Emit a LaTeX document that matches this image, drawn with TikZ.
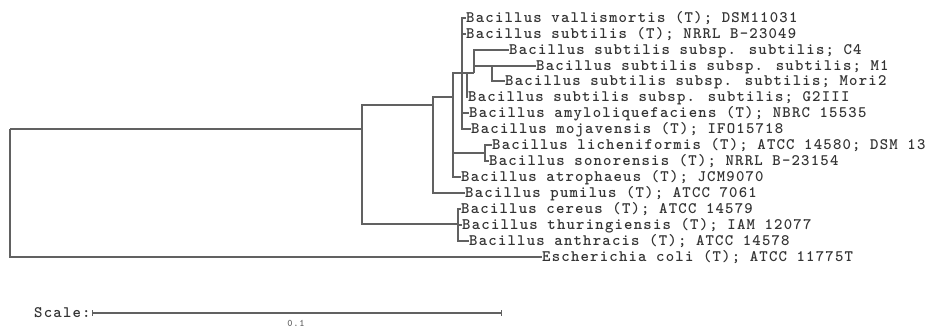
\documentclass[tikz,border=0pt]{standalone}
\usepackage{fontspec}
\newfontfamily\treefont[Extension=.otf,LetterSpace=7.5]{lmmonolt10-bold}
\usetikzlibrary{arrows.meta}
\begin{document}
\begin{tikzpicture}[x=1pt,y=-1pt,
  br/.style={draw=black!62, line width=1.3pt},
  lab/.style={anchor=west, inner sep=0pt, font=\treefont\fontsize{16}{16}\selectfont, text height=9.8pt, text depth=0pt, text=black!80}]
\useasboundingbox (0,0) rectangle (932,327);
% tips
\node[lab] (vall)  at (466,18)  {Bacillus vallismortis (T); DSM11031};
\node[lab] (nrrl)  at (466,34)  {Bacillus subtilis (T); NRRL B-23049};
\node[lab] (c4)    at (509,50)  {Bacillus subtilis subsp. subtilis; C4};
\node[lab] (m1)    at (536,66)  {Bacillus subtilis subsp. subtilis; M1};
\node[lab] (mori)  at (505,81)  {Bacillus subtilis subsp. subtilis; Mori2};
\node[lab] (g2)    at (468,97)  {Bacillus subtilis subsp. subtilis; G2III};
\node[lab] (amylo) at (469,113) {Bacillus amyloliquefaciens (T); NBRC 15535};
\node[lab] (moj)   at (471,129) {Bacillus mojavensis (T); IFO15718};
\node[lab] (lich)  at (492,145) {Bacillus licheniformis (T); ATCC 14580; DSM 13};
\node[lab] (sono)  at (489,161) {Bacillus sonorensis (T); NRRL B-23154};
\node[lab] (atro)  at (461,177) {Bacillus atrophaeus (T); JCM9070};
\node[lab] (pum)   at (465,193) {Bacillus pumilus (T); ATCC 7061};
\node[lab] (cer)   at (461,209) {Bacillus cereus (T); ATCC 14579};
\node[lab] (thur)  at (462,225) {Bacillus thuringiensis (T); IAM 12077};
\node[lab] (anth)  at (469,241) {Bacillus anthracis (T); ATCC 14578};
\node[lab] (ecoli) at (542,257) {Escherichia coli (T); ATCC 11775T};
% internal nodes
\coordinate (R) at (10,129);
\coordinate (A) at (362,129);
\coordinate (B) at (433,105);
\coordinate (C) at (453,97);
\coordinate (D) at (462,73);
\coordinate (F) at (467,73);
\coordinate (G) at (474,73);
\coordinate (H) at (492,66);
\coordinate (E) at (485,153);
\coordinate (Cg) at (458,224);
% branches
\draw[br] (R) |- (A);
\draw[br] (R) |- (ecoli.west);
\draw[br] (A) |- (B);
\draw[br] (A) |- (Cg);
\draw[br] (B) |- (C);
\draw[br] (B) |- (pum.west);
\draw[br] (C) |- (D);
\draw[br] (C) |- (E);
\draw[br] (C) |- (atro.west);
\draw[br] (D) |- (vall.west);
\draw[br] (D) |- (nrrl.west);
\draw[br] (D) |- (F);
\draw[br] (D) |- (amylo.west);
\draw[br] (D) |- (moj.west);
\draw[br] (F) |- (G);
\draw[br] (F) |- (g2.west);
\draw[br] (G) |- (c4.west);
\draw[br] (G) |- (H);
\draw[br] (H) |- (m1.west);
\draw[br] (H) |- (mori.west);
\draw[br] (E) |- (lich.west);
\draw[br] (E) |- (sono.west);
\draw[br] (Cg) |- (cer.west);
\draw[br] (Cg) |- (thur.west);
\draw[br] (Cg) |- (anth.west);
% scale bar
\node[lab] (scl) at (34,313) {Scale:};
\coordinate (s1) at (92,313);
\coordinate (s2) at (502,313);
\draw[br, {Bar[width=6pt]}-{Bar[width=6pt]}] (s1) -- (s2);
\node[inner sep=0pt, font=\treefont\fontsize{10}{10}\selectfont, text=black!60] (sv) at (296,323) {0.1};
\end{tikzpicture}
\end{document}
